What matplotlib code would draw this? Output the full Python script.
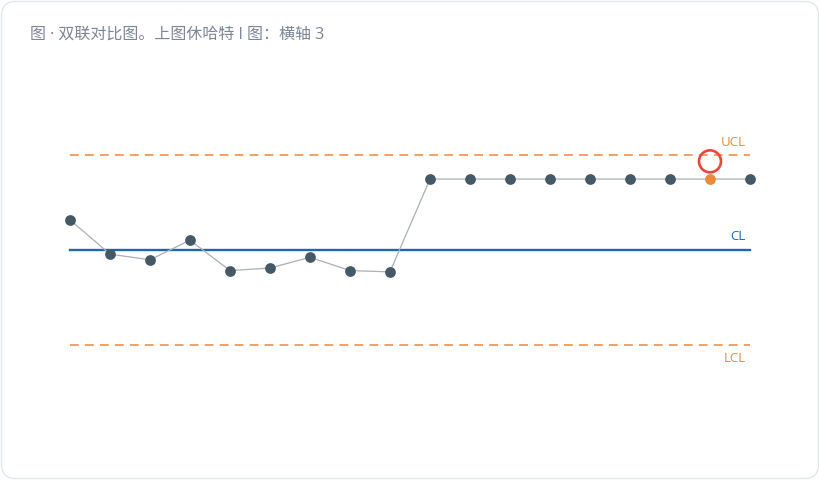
import matplotlib
matplotlib.use("Agg")
import matplotlib.pyplot as plt
from matplotlib.patches import FancyBboxPatch

plt.rcParams["font.family"] = ["Open Sans", "Noto Sans CJK SC", "DejaVu Sans"]

# data
values = [10.95, 9.87, 9.69, 10.31, 9.35, 9.43, 9.77, 9.35, 9.31,
          12.24, 12.24, 12.24, 12.24, 12.24, 12.24, 12.24, 12.24, 12.24]
center_line = 10.0
ucl = 13.0
lcl = 7.0
flagged = [16]          # 8th point in a row above CL
flag_marker_y = 12.8    # red ring drawn above the flagged point
title = "图 · 双联对比图。上图休哈特 I 图：横轴 3"

W, H = 820, 480
fig = plt.figure(figsize=(W / 100, H / 100), dpi=100)

card = FancyBboxPatch((1.5 / W, 1.5 / H), (W - 3) / W, (H - 3) / H,
                      boxstyle="round,pad=0,rounding_size=0.017",
                      transform=fig.transFigure, facecolor="white",
                      edgecolor="#e3e7ee", linewidth=1.0, mutation_aspect=W / H,
                      zorder=-5)
fig.patches.append(card)

ax = fig.add_axes([0, 0, 1, 1])
ax.patch.set_alpha(0)
ax.axis("off")
ax.set_zorder(2)

n = len(values)
xs = list(range(n))
# pixel mapping: first point at 70px, last at 750px; CL at y=250px, 95px per 3 units
px_x = (n - 1) / 680
ax.set_xlim(-70 * px_x, (n - 1) + (W - 750) * px_x)
px_y = 3 / 95
ax.set_ylim(center_line - (H - 250) * px_y, center_line + 250 * px_y)

orange = "#f0a064"
ax.plot([0, n - 1], [ucl, ucl], color=orange, lw=1.4, ls=(0, (4.5, 3.2)))
ax.plot([0, n - 1], [lcl, lcl], color=orange, lw=1.4, ls=(0, (4.5, 3.2)))
ax.plot([0, n - 1], [center_line, center_line], color="#1f67ad", lw=1.7)

ax.plot(xs, values, color="#aab0b5", lw=0.9, zorder=2)
normal = [i for i in xs if i not in flagged]
ax.scatter(normal, [values[i] for i in normal], s=60, color="#455865", zorder=3, lw=0)
ax.scatter(flagged, [values[i] for i in flagged], s=60, color="#ec8a3a", zorder=3, lw=0)
ax.scatter(flagged, [flag_marker_y] * len(flagged), s=250, facecolor="none",
           edgecolor="#e8473a", lw=1.9, zorder=4)

lab_x = (n - 1) - 4 * px_x
ax.text(lab_x, ucl + 13 * px_y, "UCL", color="#ec8a3a", fontsize=9.5, ha="right", va="center")
ax.text(lab_x, center_line + 13 * px_y, "CL", color="#1f67ad", fontsize=9.5, ha="right", va="center")
ax.text(lab_x, lcl - 13 * px_y, "LCL", color="#ec8a3a", fontsize=9.5, ha="right", va="center")

fig.text(30 / W, 1 - 35 / H, title, color="#7b8698", fontsize=11.5, ha="left", va="center")

fig.savefig("out.png", dpi=100)
